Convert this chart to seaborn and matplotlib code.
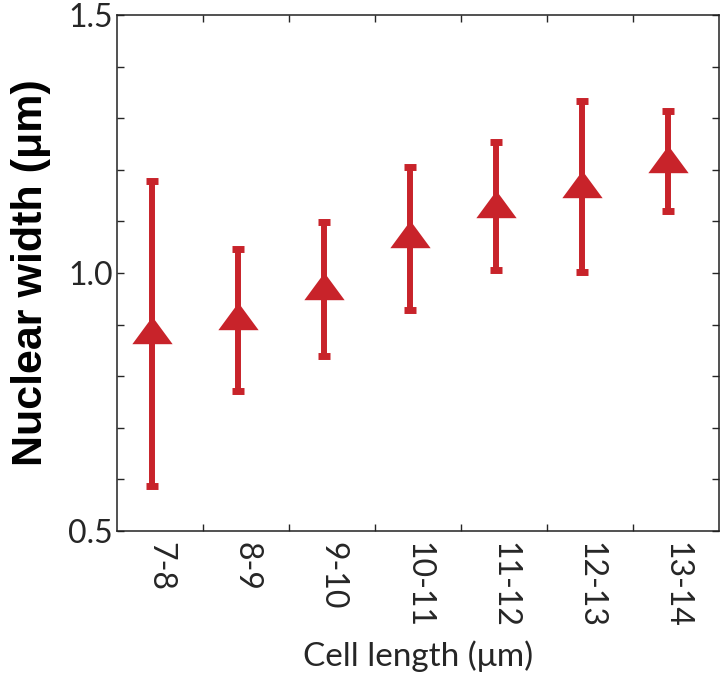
import numpy as np
import pandas as pd
import matplotlib
matplotlib.use("Agg")
import matplotlib.pyplot as plt
from matplotlib.ticker import FixedLocator, MultipleLocator
import seaborn as sns

# data
bins = ["7-8", "8-9", "9-10", "10-11", "11-12", "12-13", "13-14"]
width_mean = [0.889, 0.916, 0.975, 1.075, 1.134, 1.172, 1.221]
width_upper = [1.178, 1.046, 1.099, 1.206, 1.253, 1.333, 1.314]
width_lower = [0.588, 0.772, 0.839, 0.928, 1.006, 1.001, 1.121]

RED = "#C8232A"

sns.set_style("ticks")
plt.rcParams['font.family'] = ['Lato', 'DejaVu Sans']

df = pd.DataFrame({"bin": bins, "mean": width_mean,
                   "upper": width_upper, "lower": width_lower})
df["pos"] = np.arange(len(df)) - 0.09  # points sit a bit left of the label

fig = plt.figure(figsize=(7.25, 6.79), dpi=100)
ax = fig.add_axes([0.1614, 0.218, 0.8303, 0.760])

yerr = np.vstack([df["mean"] - df["lower"], df["upper"] - df["mean"]])
ax.errorbar(df["pos"], df["mean"], yerr=yerr, fmt="none", ecolor=RED,
            elinewidth=4.3, capsize=4.1, capthick=5, zorder=2)

# flattened triangle like the matlab '^'
tri = [(-1, -0.68), (1, -0.68), (0, 0.68), (-1, -0.68)]
sns.scatterplot(data=df, x="pos", y="mean", marker=tri, s=29 ** 2,
                color=RED, linewidth=0, ax=ax, zorder=3)

ax.set_xlim(-0.5, len(bins) - 0.5)
ax.set_ylim(0.5, 1.5)

ax.xaxis.set_major_locator(FixedLocator(np.arange(len(bins))))
ax.set_xticklabels(bins, rotation=-90, fontsize=23)
ax.xaxis.set_minor_locator(FixedLocator(np.arange(len(bins) - 1) + 0.5))
ax.tick_params(axis="x", which="major", length=0, pad=8)
ax.tick_params(axis="x", which="minor", direction="in", length=5, width=1,
               top=True, bottom=True)

ax.yaxis.set_major_locator(FixedLocator([0.5, 1.0, 1.5]))
ax.set_yticklabels(["0.5", "1.0", "1.5"], fontsize=23)
ax.yaxis.set_minor_locator(MultipleLocator(0.1))
ax.tick_params(axis="y", which="both", direction="in", length=5, width=1,
               left=True, right=True, pad=3)

for sp in ax.spines.values():
    sp.set_visible(True)
    sp.set_linewidth(1.1)
    sp.set_color("#222222")

ax.set_xlabel("Cell length (\u03bcm)", fontsize=24, labelpad=9)
ax.set_ylabel("Nuclear width (\u03bcm)", fontsize=31, fontweight="bold",
              family=["Liberation Sans", "DejaVu Sans"], labelpad=12,
              color="black")

fig.savefig("out.png", dpi=100)
